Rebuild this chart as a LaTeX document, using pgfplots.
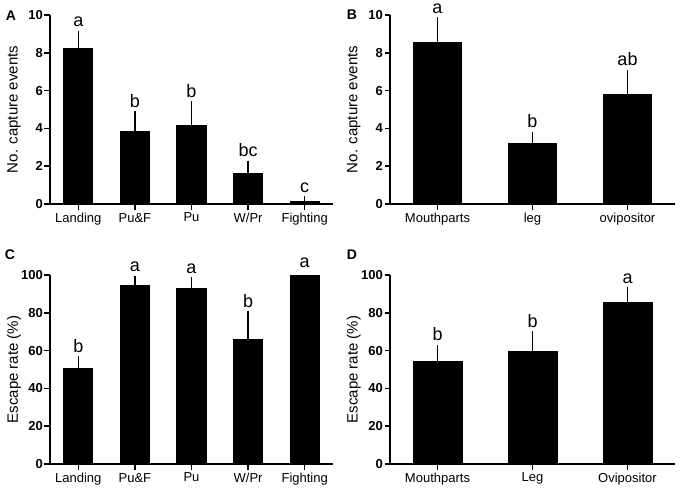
\documentclass[border=0pt]{standalone}
\usepackage{pgfplots}
\pgfplotsset{compat=1.18}
\usepackage{fontspec}
\setmainfont{Liberation Sans}
\pgfplotsset{
 panel/.style={
  scale only axis, anchor=south west, clip=false,
  ymin=0,
  axis lines=left, axis line style={-, line width=1.6bp},
  tick style={line width=1.5bp, black}, major tick length=5.5bp, tick align=outside,
  xtick pos=bottom, ytick pos=left,
  /pgf/number format/assume math mode=true,
  yticklabel={\textbf{\pgfmathprintnumber{\tick}}},
  yticklabel style={font=\bfseries\fontsize{13bp}{15bp}\selectfont, inner xsep=1.5bp},
  xticklabel style={font=\fontsize{13bp}{15bp}\selectfont},
  ylabel style={at={(axis description cs:-0.127,0.5)}, anchor=center, font=\fontsize{15bp}{18bp}\selectfont},
  ybar, 
 },
 barplot/.style={fill=black, draw=black, line width=0pt, bar shift=0pt,
  error bars/.cd, y dir=plus, y explicit,
  error bar style={line width=1.5bp, black},
  error mark=-, error mark options={mark size=4bp, line width=1.5bp, black}},
 plainbar/.style={fill=black, draw=black, line width=0pt, bar shift=0pt},
}
\tikzset{letter/.style={anchor=south, inner sep=0pt, yshift=7.5bp, font=\fontsize{18bp}{20bp}\selectfont}}
\begin{document}
\begin{tikzpicture}
\path[use as bounding box] (0,0) rectangle (681bp,-490bp);
% Panel A
\begin{axis}[panel, at={(50bp,-204bp)}, width=283bp, height=189bp,
  xmin=-0.5, xmax=4.5, ymax=10, ytick={0,2,...,10}, bar width=29bp,
  xtick={0,1,2,3,4}, xticklabels={Landing,Pu\&F,Pu,W/Pr,Fighting},
  ylabel={No. capture events}]
\addplot[barplot] coordinates {(0,8.25) +- (0,0.71) (1,3.82) +- (0,0.89) (2,4.18) +- (0,1.04) (3,1.62) +- (0,0.46) (4,0.13) +- (0,0.08)};
\node[letter] at (axis cs:0,8.96) {a};
\node[letter] at (axis cs:1,4.71) {b};
\node[letter] at (axis cs:2,5.22) {b};
\node[letter] at (axis cs:3,2.08) {bc};
\node[letter] at (axis cs:4,0.21) {c};
\end{axis}
% Panel B
\begin{axis}[panel, at={(390bp,-204bp)}, width=285bp, height=189bp,
  xmin=-0.5, xmax=2.5, ymax=10, ytick={0,2,...,10}, bar width=48bp,
  xtick={0,1,2}, xticklabels={Mouthparts,leg,ovipositor},
  ylabel={No. capture events}]
\addplot[barplot] coordinates {(0,8.55) +- (0,1.13) (1,3.21) +- (0,0.40) (2,5.77) +- (0,1.12)};
\node[letter] at (axis cs:0,9.68) {a};
\node[letter] at (axis cs:1,3.61) {b};
\node[letter] at (axis cs:2,6.89) {ab};
\end{axis}
% Panel C
\begin{axis}[panel, at={(50bp,-464bp)}, width=283bp, height=189bp,
  xmin=-0.5, xmax=4.5, ymax=100, ytick={0,20,...,100}, bar width=29bp,
  xtick={0,1,2,3,4}, xticklabels={Landing,Pu\&F,Pu,W/Pr,Fighting},
  ylabel={Escape rate (\%)}]
\addplot[barplot] coordinates {(0,50.4) +- (0,4.5) (1,94.2) +- (0,3.3) (2,92.8) +- (0,3.9) (3,66.1) +- (0,12.6)};
\addplot[plainbar] coordinates {(4,100)};
\node[letter] at (axis cs:0,54.9) {b};
\node[letter] at (axis cs:1,97.5) {a};
\node[letter] at (axis cs:2,96.7) {a};
\node[letter] at (axis cs:3,78.7) {b};
\node[letter] at (axis cs:4,100) {a};
\end{axis}
% Panel D
\begin{axis}[panel, at={(390bp,-464bp)}, width=285bp, height=189bp,
  xmin=-0.5, xmax=2.5, ymax=100, ytick={0,20,...,100}, bar width=49bp,
  xtick={0,1,2}, xticklabels={Mouthparts,Leg,Ovipositor},
  ylabel={Escape rate (\%)}]
\addplot[barplot] coordinates {(0,54.3) +- (0,6.7) (1,59.6) +- (0,8.4) (2,85.5) +- (0,5.8)};
\node[letter] at (axis cs:0,61.0) {b};
\node[letter] at (axis cs:1,68.0) {b};
\node[letter] at (axis cs:2,91.3) {a};
\end{axis}
\node[font=\bfseries\fontsize{14bp}{16bp}\selectfont] at (11bp,-16bp) {A};
\node[font=\bfseries\fontsize{14bp}{16bp}\selectfont] at (352bp,-15bp) {B};
\node[font=\bfseries\fontsize{14bp}{16bp}\selectfont] at (10bp,-255bp) {C};
\node[font=\bfseries\fontsize{14bp}{16bp}\selectfont] at (352bp,-255bp) {D};
\end{tikzpicture}
\end{document}
